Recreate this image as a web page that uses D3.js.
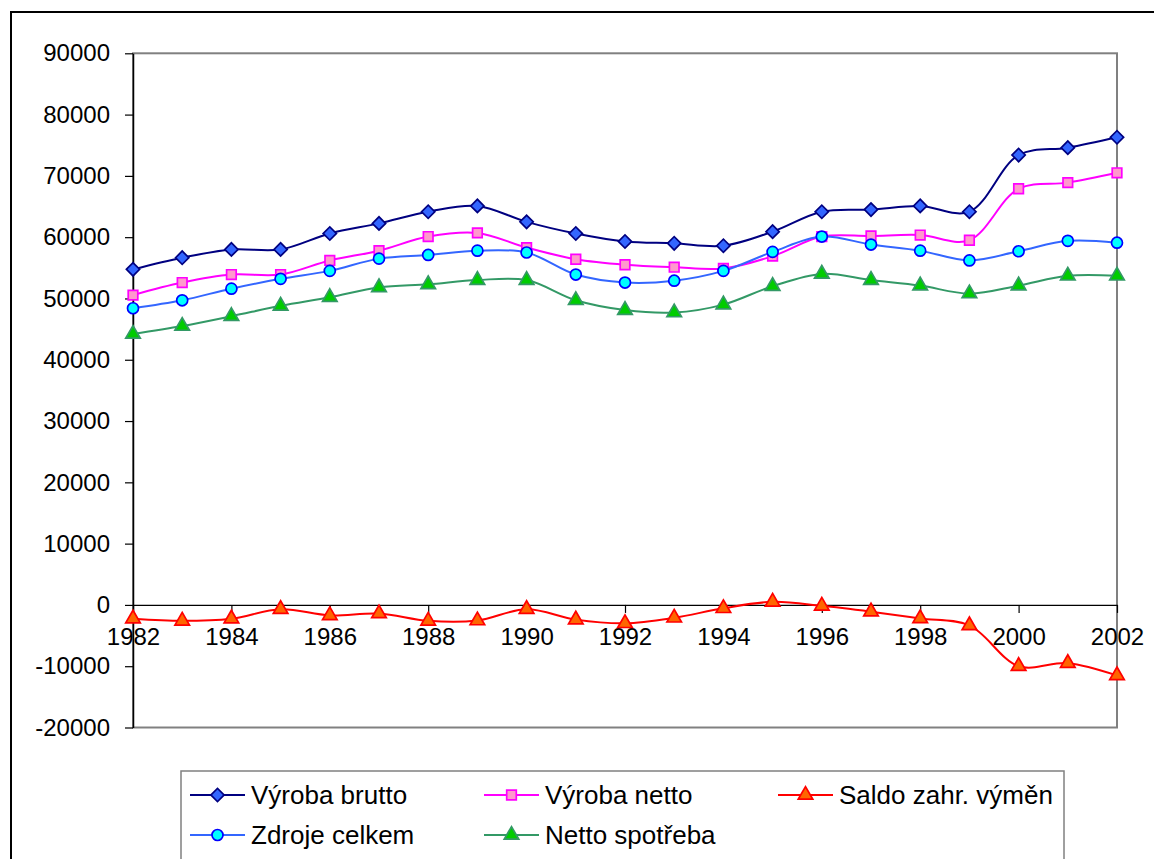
<!DOCTYPE html>
<html>
<head>
<meta charset="utf-8">
<script src="https://cdn.jsdelivr.net/npm/d3@7"></script>
<style>
  body { margin: 0; background: #fff; }
  svg { display: block; font-family: "Liberation Sans", Arial, sans-serif; }
</style>
</head>
<body>
<svg id="chart" width="1154" height="859"></svg>
<script>
// data (GWh)
var years = [1982, 1983, 1984, 1985, 1986, 1987, 1988, 1989, 1990, 1991, 1992,
             1993, 1994, 1995, 1996, 1997, 1998, 1999, 2000, 2001, 2002];
var vyrobaBrutto = [54750, 56650, 58000, 58000, 60600, 62250, 64150, 65100, 62500, 60600, 59300,
                    59000, 58600, 60900, 64150, 64500, 65100, 64150, 73400, 74600, 76300];
var vyrobaNetto = [50550, 52600, 53900, 53900, 56200, 57800, 60100, 60700, 58300, 56400, 55500,
                   55100, 54900, 56900, 60100, 60200, 60350, 59500, 67900, 68900, 70500];
var saldo = [-2250, -2600, -2250, -700, -1700, -1400, -2600, -2550, -700, -2400, -3000,
             -2100, -550, 500, -150, -1100, -2200, -3350, -10000, -9500, -11500];
var zdroje = [48400, 49700, 51600, 53200, 54500, 56500, 57100, 57800, 57500, 53900, 52600,
              52900, 54500, 57600, 60100, 58800, 57800, 56200, 57700, 59400, 59100];
var spotreba = [44200, 45500, 47100, 48800, 50200, 51800, 52300, 53000, 53000, 49700, 48100,
                47700, 49000, 52000, 54000, 53000, 52100, 50800, 52100, 53700, 53700];
var yTicks = [-20000, -10000, 0, 10000, 20000, 30000, 40000, 50000, 60000, 70000, 80000, 90000];
var xTicks = [1982, 1984, 1986, 1988, 1990, 1992, 1994, 1996, 1998, 2000, 2002];

var series = [
    {name: "Výroba brutto", values: vyrobaBrutto, line: "#000080", fill: "#3366ff", stroke: "#000080", shape: "diamond"},
    {name: "Výroba netto", values: vyrobaNetto, line: "#ff00ff", fill: "#ff99cc", stroke: "#ff00ff", shape: "square"},
    {name: "Saldo zahr. výměn", values: saldo, line: "#ff0000", fill: "#ff6600", stroke: "#ff0000", shape: "triangle"},
    {name: "Zdroje celkem", values: zdroje, line: "#3366ff", fill: "#00ffff", stroke: "#0000ff", shape: "circle"},
    {name: "Netto spotřeba", values: spotreba, line: "#339966", fill: "#00cc00", stroke: "#339966", shape: "triangle"}
];

var svg = d3.select("#chart");
var plotLeft = 133, plotRight = 1117, plotTop = 53.3, plotBottom = 727.5;

var x = d3.scalePoint().domain(years).range([plotLeft, plotRight]);
var y = d3.scaleLinear().domain([-20000, 90000]).range([plotBottom, plotTop]);

// outer chart border (cut off at right and bottom)
svg.append("rect")
    .attr("x", 11).attr("y", 12)
    .attr("width", 1170).attr("height", 900)
    .attr("fill", "none").attr("stroke", "#000").attr("stroke-width", 2);

// plot area frame
svg.append("rect")
    .attr("x", plotLeft).attr("y", plotTop)
    .attr("width", plotRight - plotLeft).attr("height", plotBottom - plotTop)
    .attr("fill", "none").attr("stroke", "#808080").attr("stroke-width", 2);

var yAxis = svg.append("g")
    .attr("transform", "translate(" + plotLeft + ",0)")
    .call(d3.axisLeft(y).tickValues(yTicks).tickSize(8).tickPadding(15).tickSizeOuter(0)
        .tickFormat(function (d) { return String(d); }));
yAxis.select(".domain").attr("stroke", "#000").attr("stroke-width", 1.5);
yAxis.selectAll(".tick line").attr("stroke", "#000").attr("stroke-width", 1.2);
yAxis.selectAll("text").attr("font-size", 24).attr("fill", "#000")
    .attr("font-family", "Liberation Sans, Arial, sans-serif");

var xAxis = svg.append("g")
    .attr("transform", "translate(0," + y(0) + ")")
    .call(d3.axisBottom(x).tickValues(xTicks).tickSize(8).tickPadding(15).tickSizeOuter(0));
xAxis.select(".domain").attr("stroke", "#000").attr("stroke-width", 1.2);
xAxis.selectAll(".tick line").attr("stroke", "#000").attr("stroke-width", 1.2);
xAxis.selectAll("text").attr("font-size", 24).attr("fill", "#000")
    .attr("font-family", "Liberation Sans, Arial, sans-serif");

function symbolPath(shape) {
    if (shape === "diamond") return d3.symbol(d3.symbolSquare, 88)();
    if (shape === "square") return d3.symbol(d3.symbolSquare, 92)();
    if (shape === "circle") return d3.symbol(d3.symbolCircle, 95)();
    return d3.symbol(d3.symbolTriangle, 92)();
}

function drawMarker(g, s, cx, cy) {
    g.append("path")
        .attr("d", symbolPath(s.shape))
        .attr("transform", "translate(" + cx + "," + cy + ")" + (s.shape === "diamond" ? " rotate(45)" : ""))
        .attr("fill", s.fill)
        .attr("stroke", s.stroke)
        .attr("stroke-width", 1.7);
}

var line = d3.line()
    .x(function (d, i) { return x(years[i]); })
    .y(function (d) { return y(d); })
    .curve(d3.curveCatmullRom.alpha(0.5));

series.forEach(function (s) {
    var g = svg.append("g");
    g.append("path")
        .attr("d", line(s.values))
        .attr("fill", "none")
        .attr("stroke", s.line)
        .attr("stroke-width", 2);
    s.values.forEach(function (v, i) {
        drawMarker(g, s, x(years[i]), y(v));
    });
});

// legend
var legend = svg.append("g");
legend.append("rect")
    .attr("x", 181).attr("y", 771)
    .attr("width", 883).attr("height", 120)
    .attr("fill", "#fff").attr("stroke", "#808080").attr("stroke-width", 1.5);

var legendCols = [190, 484, 778];
var legendRows = [795, 835];
series.forEach(function (s, i) {
    var lx = legendCols[i % 3], ly = legendRows[Math.floor(i / 3)];
    legend.append("line")
        .attr("x1", lx).attr("x2", lx + 55)
        .attr("y1", ly).attr("y2", ly)
        .attr("stroke", s.line).attr("stroke-width", 2);
    drawMarker(legend, s, lx + 27.5, ly);
    legend.append("text")
        .attr("x", lx + 61).attr("y", ly + 9)
        .attr("font-size", 26)
        .attr("fill", "#000")
        .text(s.name);
});
</script>
</body>
</html>
